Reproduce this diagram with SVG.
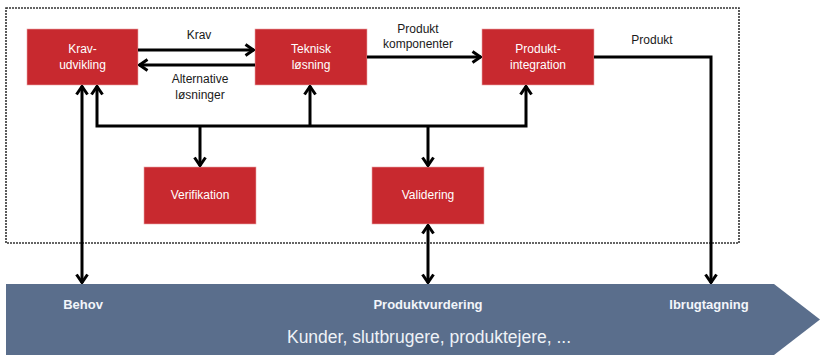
<svg xmlns="http://www.w3.org/2000/svg" width="821" height="356" viewBox="0 0 821 356">
<style>
.node{fill:#C8292F;stroke:#E9A3A6;stroke-width:0.6}
.nt{font-family:"Liberation Sans",Arial,sans-serif;font-size:12px;fill:#FFFFFF;text-anchor:middle}
.lbl{font-family:"Liberation Sans",Arial,sans-serif;font-size:12px;fill:#1a1a1a;text-anchor:middle}
.con{fill:none;stroke:#000;stroke-width:3}
.bl{font-family:"Liberation Sans",Arial,sans-serif;font-size:13px;font-weight:bold;fill:#F2F5FA;text-anchor:middle}
.bt{font-family:"Liberation Sans",Arial,sans-serif;font-size:17.5px;fill:#EEF2F7;text-anchor:middle}
</style>
<defs>
<marker id="ah" viewBox="0 0 11 14" refX="10" refY="7" markerWidth="11" markerHeight="14" markerUnits="userSpaceOnUse" orient="auto-start-reverse">
<path d="M1.5,1.5 L9.5,7 L1.5,12.5" fill="none" stroke="#000" stroke-width="3"/>
</marker>
</defs>
<rect x="6" y="8" width="733" height="235" fill="none" stroke="#333" stroke-width="1.6" stroke-dasharray="2,1"/>
<g id="bar">
<path d="M6,284 H774 L820,319.5 L774,355 H6 Z" fill="#5A6E8C"/>
<text class="bl" x="83" y="309">Behov</text>
<text class="bl" x="428" y="309">Produktvurdering</text>
<text class="bl" x="709" y="309">Ibrugtagning</text>
<text class="bt" x="429" y="343">Kunder, slutbrugere, produktejere, ...</text>
</g>
<g id="krav">
<rect class="node" x="27" y="29" width="111" height="56"/>
<text class="nt" x="82.5" y="53">Krav-</text>
<text class="nt" x="82.5" y="69">udvikling</text>
</g>
<g id="teknisk">
<rect class="node" x="255" y="29" width="112" height="56"/>
<text class="nt" x="311" y="53">Teknisk</text>
<text class="nt" x="311" y="69">løsning</text>
</g>
<g id="integration">
<rect class="node" x="482" y="29" width="112" height="56"/>
<text class="nt" x="538" y="53">Produkt-</text>
<text class="nt" x="538" y="69">integration</text>
</g>
<g id="verifikation">
<rect class="node" x="144" y="167" width="112" height="57"/>
<text class="nt" x="200" y="199">Verifikation</text>
</g>
<g id="validering">
<rect class="node" x="372" y="167" width="112" height="57"/>
<text class="nt" x="428" y="199">Validering</text>
</g>
<g id="connectors">
<path class="con" d="M138,50 H254" marker-end="url(#ah)"/>
<path class="con" d="M255,65 H139" marker-end="url(#ah)"/>
<path class="con" d="M367,57 H481" marker-end="url(#ah)"/>
<path class="con" d="M594,57 H711 V283" marker-end="url(#ah)"/>
<path class="con" d="M97,86 V126 H526 V86" marker-start="url(#ah)" marker-end="url(#ah)"/>
<path class="con" d="M310,126 V86" marker-end="url(#ah)"/>
<path class="con" d="M200,126 V166" marker-end="url(#ah)"/>
<path class="con" d="M428,126 V166" marker-end="url(#ah)"/>
<path class="con" d="M82,86 V283" marker-start="url(#ah)" marker-end="url(#ah)"/>
<path class="con" d="M428,225 V283" marker-start="url(#ah)" marker-end="url(#ah)"/>
<text class="lbl" x="199" y="39">Krav</text>
<text class="lbl" x="200" y="83">Alternative</text>
<text class="lbl" x="200" y="99">løsninger</text>
<text class="lbl" x="418" y="33">Produkt</text>
<text class="lbl" x="418" y="48">komponenter</text>
<text class="lbl" x="652" y="44">Produkt</text>
</g>
</svg>
